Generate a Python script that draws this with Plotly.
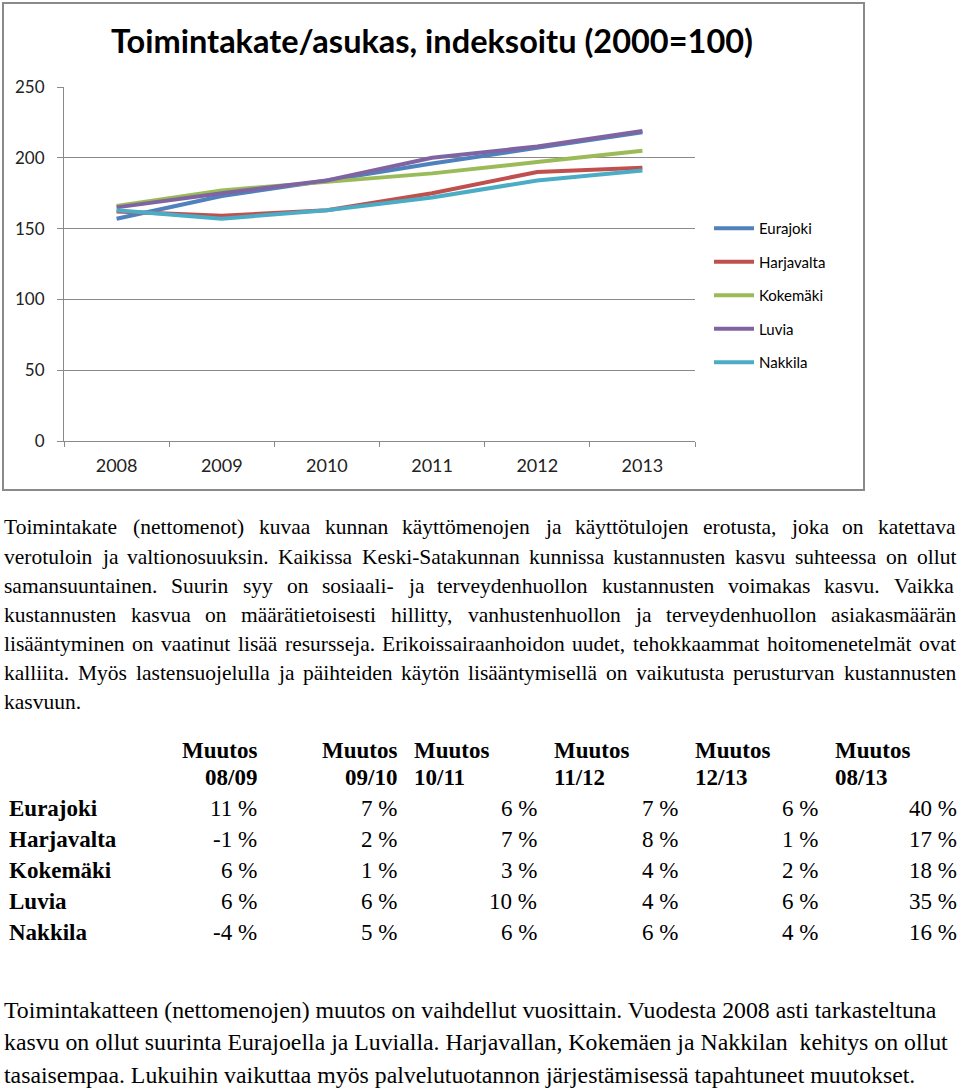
import plotly.graph_objects as go

W, H = 960, 1089

years = ["2008", "2009", "2010", "2011", "2012", "2013"]
municipalities = ["Eurajoki", "Harjavalta", "Kokemäki", "Luvia", "Nakkila"]
eurajoki = [157, 173, 184, 196, 207, 218]
harjavalta = [162, 159, 163, 175, 190, 193]
kokemaki = [166, 177, 183, 189, 197, 205]
luvia = [165, 175, 184, 200, 208, 219]
nakkila = [163, 157, 163, 172, 184, 191]
series = [eurajoki, harjavalta, kokemaki, luvia, nakkila]
colors = ["#4F81BD", "#C0504D", "#9BBB59", "#8064A2", "#4BACC6"]

chart_title = "Toimintakate/asukas, indeksoitu (2000=100)"
y_ticks = [0, 50, 100, 150, 200, 250]

change_headers = ["08/09", "09/10", "10/11", "11/12", "12/13", "08/13"]
changes = [
    [11, 7, 6, 7, 6, 40],
    [-1, 2, 7, 8, 1, 17],
    [6, 1, 3, 4, 2, 18],
    [6, 6, 10, 4, 6, 35],
    [-4, 5, 6, 6, 4, 16],
]

para1 = [
    "Toimintakate (nettomenot) kuvaa kunnan käyttömenojen ja käyttötulojen erotusta, joka on katettava",
    "verotuloin ja valtionosuuksin. Kaikissa Keski-Satakunnan kunnissa kustannusten kasvu suhteessa on ollut",
    "samansuuntainen. Suurin syy on sosiaali- ja terveydenhuollon kustannusten voimakas kasvu. Vaikka",
    "kustannusten kasvua on määrätietoisesti hillitty, vanhustenhuollon ja terveydenhuollon asiakasmäärän",
    "lisääntyminen on vaatinut lisää resursseja. Erikoissairaanhoidon uudet, tehokkaammat hoitomenetelmät ovat",
    "kalliita. Myös lastensuojelulla ja päihteiden käytön lisääntymisellä on vaikutusta perusturvan kustannusten",
    "kasvuun.",
]
para2 = [
    "Toimintakatteen (nettomenojen) muutos on vaihdellut vuosittain. Vuodesta 2008 asti tarkasteltuna",
    "kasvu on ollut suurinta Eurajoella ja Luvialla. Harjavallan, Kokemäen ja Nakkilan\u00a0 kehitys on ollut",
    "tasaisempaa. Lukuihin vaikuttaa myös palvelutuotannon järjestämisessä tapahtuneet muutokset.",
]

# Times New Roman (Liberation Serif) advance widths, per 1000 em
REG = {
    'a': 444, 'b': 500, 'c': 444, 'd': 500, 'e': 444, 'f': 333, 'g': 500, 'h': 500,
    'i': 278, 'j': 278, 'k': 500, 'l': 278, 'm': 778, 'n': 500, 'o': 500, 'p': 500,
    'q': 500, 'r': 333, 's': 389, 't': 278, 'u': 500, 'v': 500, 'w': 722, 'x': 500,
    'y': 500, 'z': 444, 'ä': 444, 'ö': 500,
    'A': 722, 'B': 667, 'C': 667, 'D': 722, 'E': 611, 'F': 556, 'G': 722, 'H': 722,
    'I': 333, 'J': 389, 'K': 722, 'L': 611, 'M': 889, 'N': 722, 'O': 722, 'P': 556,
    'R': 667, 'S': 556, 'T': 611, 'U': 722, 'V': 722, 'W': 944, 'Y': 722,
    '(': 333, ')': 333, ',': 250, '.': 250, '-': 333, ' ': 250,
}


def text_w(s, size):
    return sum(REG.get(ch, 500) for ch in s) / 1000.0 * size


def px(x):
    return x / W


def py(y):
    return 1 - y / H


fig = go.Figure()
for name, vals, col in zip(municipalities, series, colors):
    fig.add_trace(go.Scatter(
        x=years, y=vals, mode="lines", name=name, legendgroup=name,
        line=dict(color=col, width=4),
    ))

annotations = []
SERIF = "Liberation Serif, Times New Roman, serif"

# Justified first paragraph
p1_size = 21.5
p1_y = [527, 557, 586, 615, 644, 673, 702]
left, right = 3, 955
for i, line in enumerate(para1):
    if i == len(para1) - 1:
        annotations.append(dict(text=line, x=px(left), y=py(p1_y[i]), xref="paper", yref="paper",
                                xanchor="left", yanchor="middle", showarrow=False, borderpad=0,
                                font=dict(family=SERIF, size=p1_size, color="black")))
        continue
    words = line.split(" ")
    widths = [text_w(w_, p1_size) for w_ in words]
    gap = (right - left - sum(widths)) / (len(words) - 1)
    x = left
    for w_, wd in zip(words, widths):
        annotations.append(dict(text=w_, x=px(x), y=py(p1_y[i]), xref="paper", yref="paper",
                                xanchor="left", yanchor="middle", showarrow=False, borderpad=0,
                                font=dict(family=SERIF, size=p1_size, color="black")))
        x += wd + gap

# Table
t_size = 23
hdr_y = [750, 777]
hdr_pos = [("right", 258), ("right", 398), ("left", 413), ("left", 553), ("left", 694), ("left", 834)]
for (anc, hx), lab in zip(hdr_pos, change_headers):
    for txt, yy in zip(["Muutos", lab], hdr_y):
        annotations.append(dict(text="<b>%s</b>" % txt, x=px(hx), y=py(yy), xref="paper", yref="paper",
                                xanchor=anc, yanchor="middle", showarrow=False, borderpad=0,
                                font=dict(family=SERIF, size=t_size, color="black")))
row_y = [808, 839, 870, 901, 932]
val_right = [258, 398, 538, 679, 819, 958]
for name, vals, ry in zip(municipalities, changes, row_y):
    annotations.append(dict(text="<b>%s</b>" % name, x=px(8), y=py(ry), xref="paper", yref="paper",
                            xanchor="left", yanchor="middle", showarrow=False, borderpad=0,
                            font=dict(family=SERIF, size=t_size, color="black")))
    for v, vx in zip(vals, val_right):
        annotations.append(dict(text="%d\u00a0%%" % v, x=px(vx), y=py(ry), xref="paper", yref="paper",
                                xanchor="right", yanchor="middle", showarrow=False, borderpad=0,
                                font=dict(family=SERIF, size=t_size, color="black")))

# Second paragraph
p2_size = 23.8
p2_y = [1010, 1042, 1075]
for line, yy in zip(para2, p2_y):
    annotations.append(dict(text=line, x=px(3), y=py(yy), xref="paper", yref="paper",
                            xanchor="left", yanchor="middle", showarrow=False, borderpad=0,
                            font=dict(family=SERIF, size=p2_size, color="black")))

CHART_FONT = "Lato, Open Sans, sans-serif"
fig.update_layout(
    width=W, height=H,
    margin=dict(l=0, r=0, t=0, b=0, autoexpand=False),
    paper_bgcolor="white", plot_bgcolor="white",
    title=dict(text="<b>%s</b>" % chart_title, x=px(432), y=py(42), xref="paper", yref="container",
               xanchor="center", yanchor="middle",
               font=dict(family=CHART_FONT, size=32.5, color="black")),
    xaxis=dict(domain=[px(64), px(695)], type="category", range=[-0.5, 5.5], automargin=False,
               showline=True, linecolor="#8a8a8a", linewidth=1,
               ticks="outside", tickson="boundaries", ticklen=5, tickcolor="#8a8a8a",
               showgrid=False, ticklabelstandoff=8,
               tickfont=dict(family=CHART_FONT, size=18, color="#222222")),
    yaxis=dict(domain=[py(441), py(87)], range=[0, 250], tickvals=y_ticks, automargin=False,
               showline=True, linecolor="#8a8a8a", linewidth=1,
               ticks="outside", ticklen=6, tickcolor="#8a8a8a",
               showgrid=True, gridcolor="#8a8a8a", gridwidth=1, zeroline=False,
               ticklabelstandoff=9,
               tickfont=dict(family=CHART_FONT, size=17, color="#222222")),
    legend=dict(x=px(709), y=py(212), xanchor="left", yanchor="top", itemwidth=40,
                font=dict(family=CHART_FONT, size=15, color="black"),
                tracegroupgap=11, bgcolor="rgba(0,0,0,0)"),
    showlegend=True,
    annotations=annotations,
    shapes=[dict(type="rect", xref="paper", yref="paper", x0=px(3), x1=px(864), y0=py(490), y1=py(3),
                 line=dict(color="#8a8a8a", width=2), fillcolor="rgba(0,0,0,0)", layer="below")],
)

fig.write_html("out.html", config={"displayModeBar": False},
               post_script="document.body.style.margin='0';document.body.style.overflow='hidden';")
